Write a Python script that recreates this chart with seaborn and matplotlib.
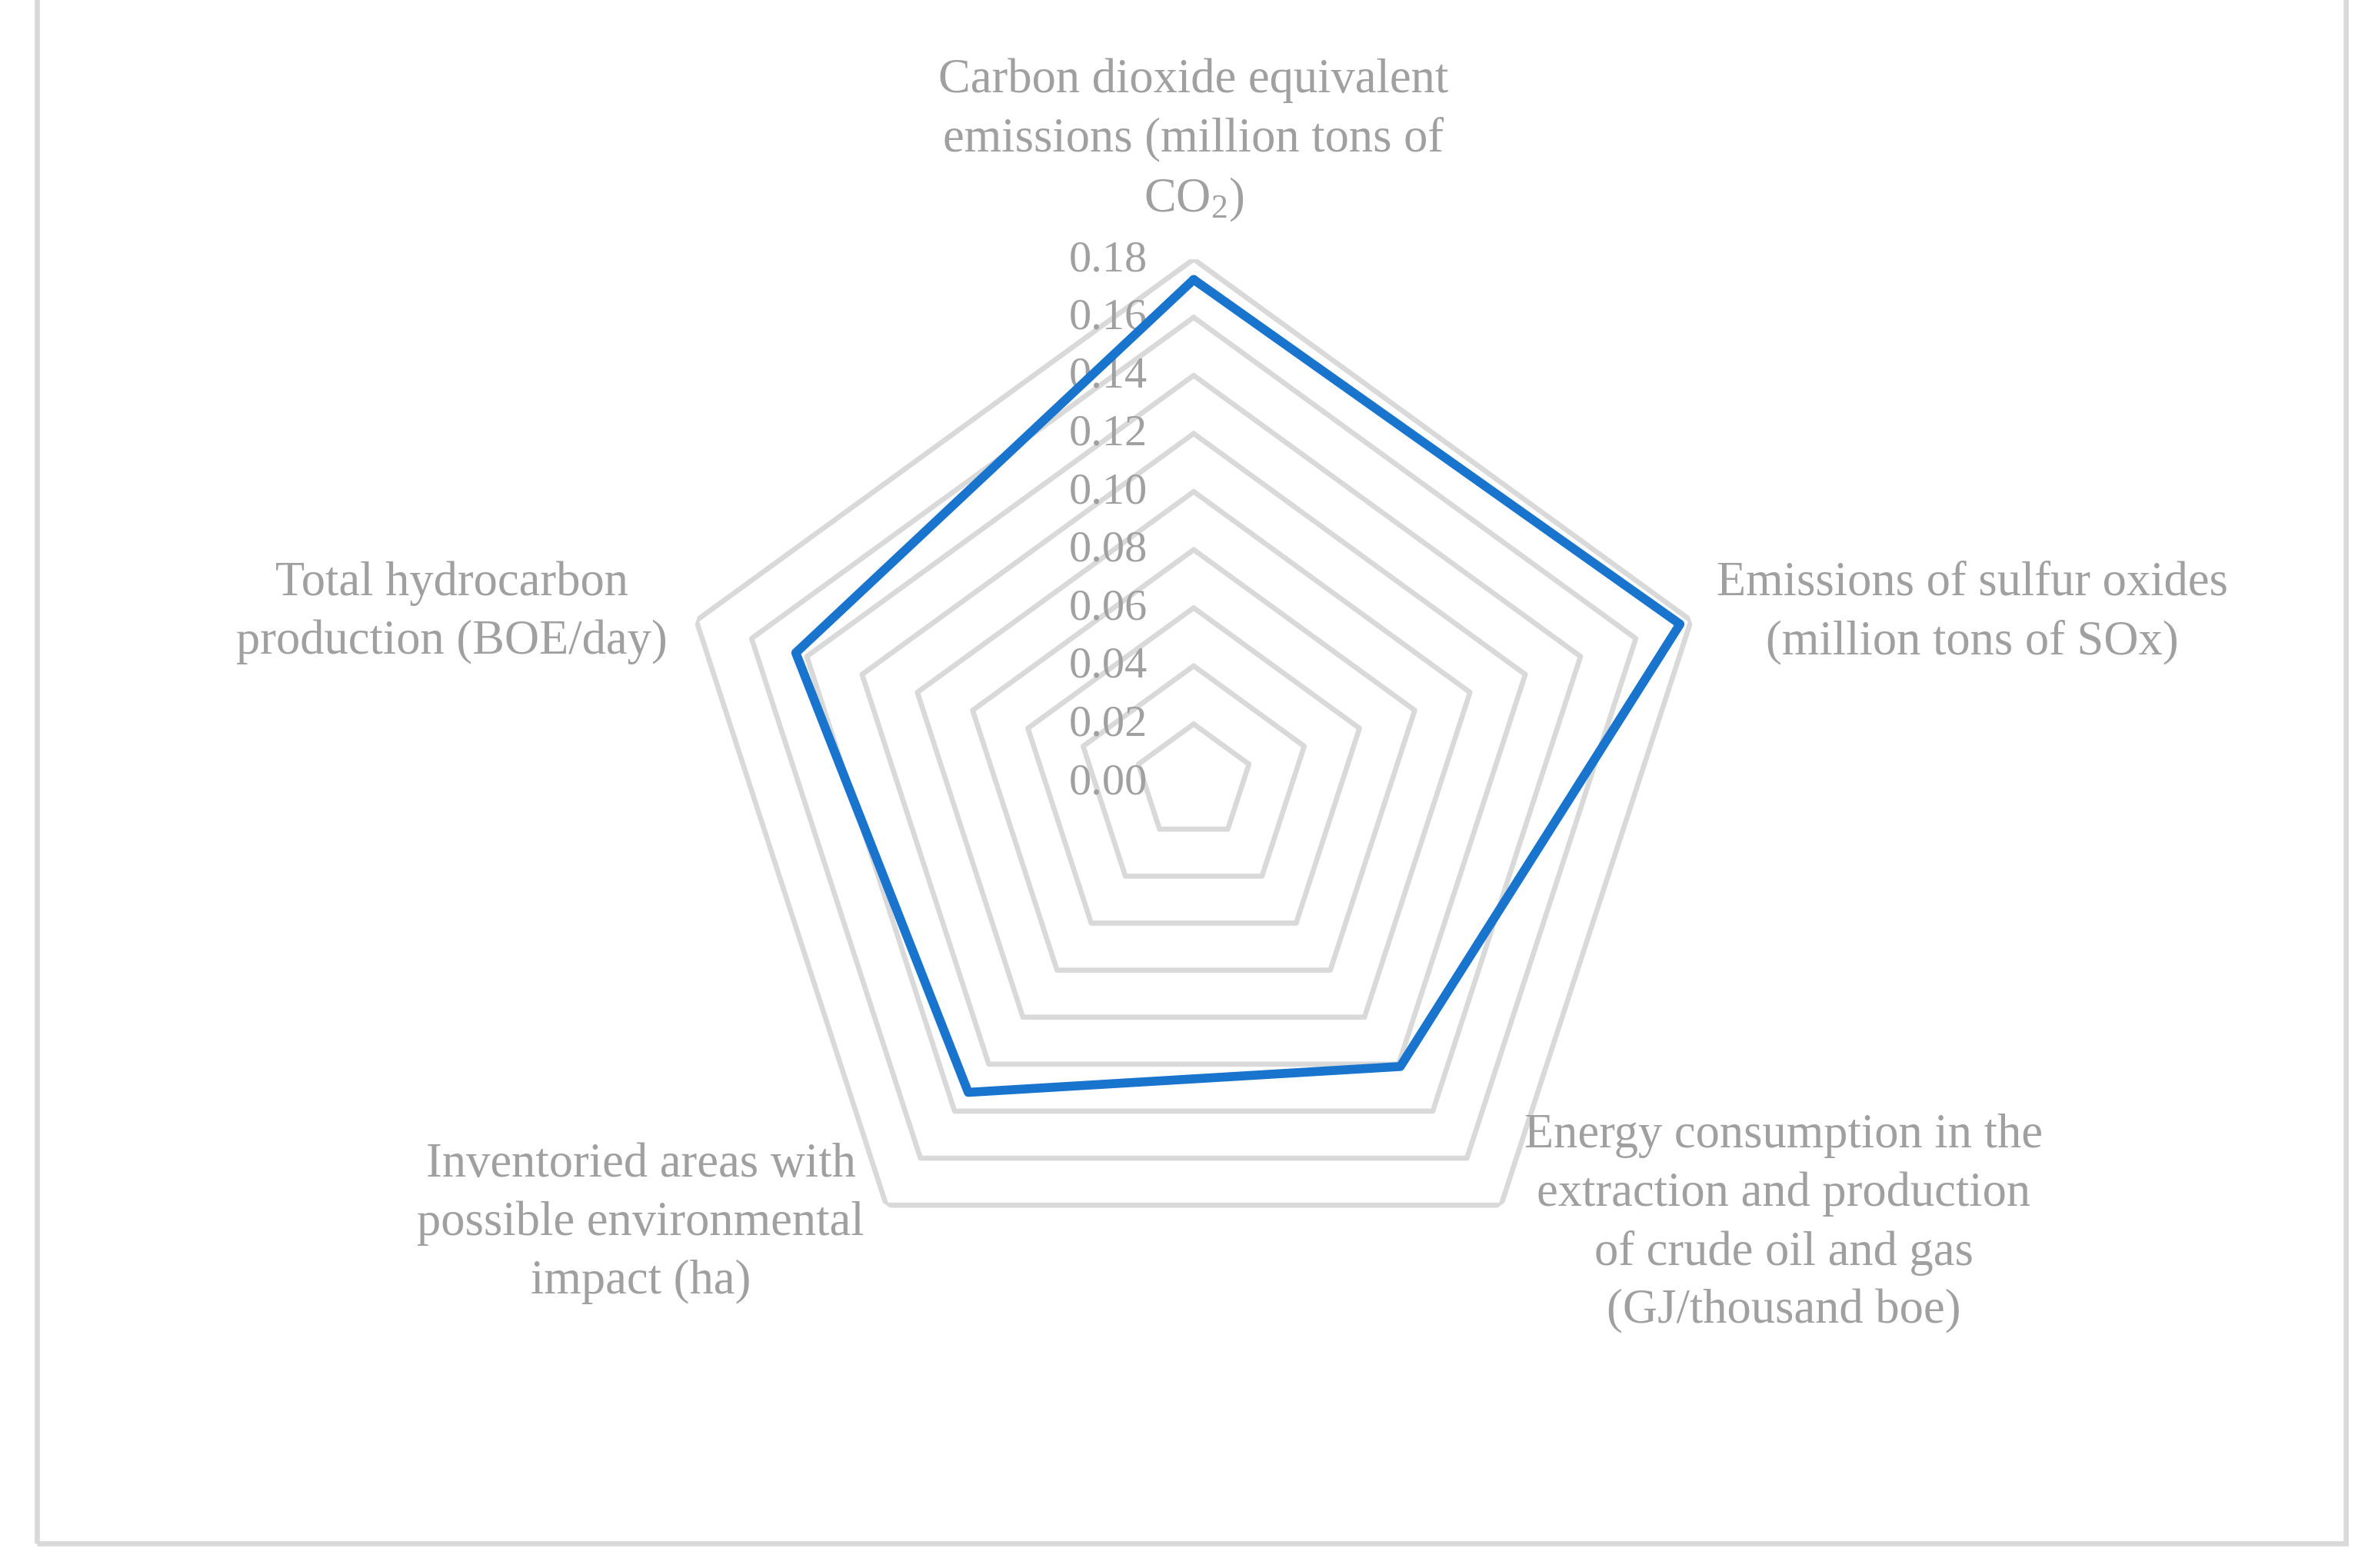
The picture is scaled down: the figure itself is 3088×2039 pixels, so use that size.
"""
Radar chart of environmental indicators (single series), Excel-style pentagon grid.
"""
import numpy as np
import pandas as pd
import matplotlib
matplotlib.use('Agg')
import matplotlib.pyplot as plt
import matplotlib.transforms as mtransforms
from matplotlib.patches import Rectangle
import seaborn as sns

# ---- data -------------------------------------------------------------
categories = [
    "Carbon dioxide equivalent\nemissions (million tons of\nCO$_\\mathregular{2}$)",
    "Emissions of sulfur oxides\n(million tons of SOx)",
    "Energy consumption in the\nextraction and production\nof crude oil and gas\n(GJ/thousand boe)",
    "Inventoried areas with\npossible environmental\nimpact (ha)",
    "Total hydrocarbon\nproduction (BOE/day)",
]
values = [0.173, 0.176, 0.121, 0.132, 0.144]
r_ticks = [0.00, 0.02, 0.04, 0.06, 0.08, 0.10, 0.12, 0.14, 0.16, 0.18]
tick_labels = [f"{t:.2f}" for t in r_ticks]

# label anchor points (figure fraction)
label_pos = [(0.5026, 0.9103), (0.8303, 0.6093), (0.7510, 0.2201),
             (0.2698, 0.2201), (0.1901, 0.6093)]

TEXT_C = '#A0A0A0'
GRID_C = '#D9D9D9'
LINE_C = '#1874CD'

sns.set_theme(style='white')
plt.rcParams['font.family'] = ['Liberation Serif', 'DejaVu Serif']
plt.rcParams['mathtext.fontset'] = 'custom'
plt.rcParams['mathtext.rm'] = 'Liberation Serif'
plt.rcParams['mathtext.default'] = 'regular'

n = len(categories)
theta = np.linspace(0, 2 * np.pi, n, endpoint=False)
df = pd.DataFrame({
    'theta': np.append(theta, 2 * np.pi),
    'value': values + values[:1],
})

fig = plt.figure(figsize=(15.44, 10.2), dpi=200)
ax = fig.add_axes([0.2824, 0.1676, 0.4404, 0.6667], projection='polar')
ax.set_theta_zero_location('N')
ax.set_theta_direction(-1)

# pentagon gridlines
for lvl in r_ticks[1:]:
    ax.plot(np.append(theta, 2 * np.pi), [lvl] * (n + 1),
            color=GRID_C, lw=2.4, zorder=1)

sns.lineplot(data=df, x='theta', y='value', sort=False, estimator=None,
             color=LINE_C, lw=4.2, ax=ax, zorder=3)

ax.set_ylim(0, r_ticks[-1])
ax.set_xticks([])
ax.set_yticks([])
ax.grid(False)
ax.spines['polar'].set_visible(False)
ax.set_xlabel('')
ax.set_ylabel('')

# value labels up the vertical axis
off = mtransforms.offset_copy(ax.transData, fig=fig, x=-60, y=0, units='dots')
for t, lab in zip(r_ticks, tick_labels):
    ax.text(0, t, lab, transform=off, ha='right', va='center',
            fontsize=21, color=TEXT_C, zorder=2)

for lab, (x, y) in zip(categories, label_pos):
    fig.text(x, y, lab, ha='center', va='center', multialignment='center',
             fontsize=22.5, color=TEXT_C, linespacing=1.4)

# chart-area border (top edge runs off the image)
fig.patches.append(Rectangle((48 / 3088, 32 / 2040), 3002 / 3088, 1.1,
                             transform=fig.transFigure, fill=False,
                             edgecolor=GRID_C, lw=2.4))

fig.savefig('out.png', dpi=200)
plt.close(fig)
